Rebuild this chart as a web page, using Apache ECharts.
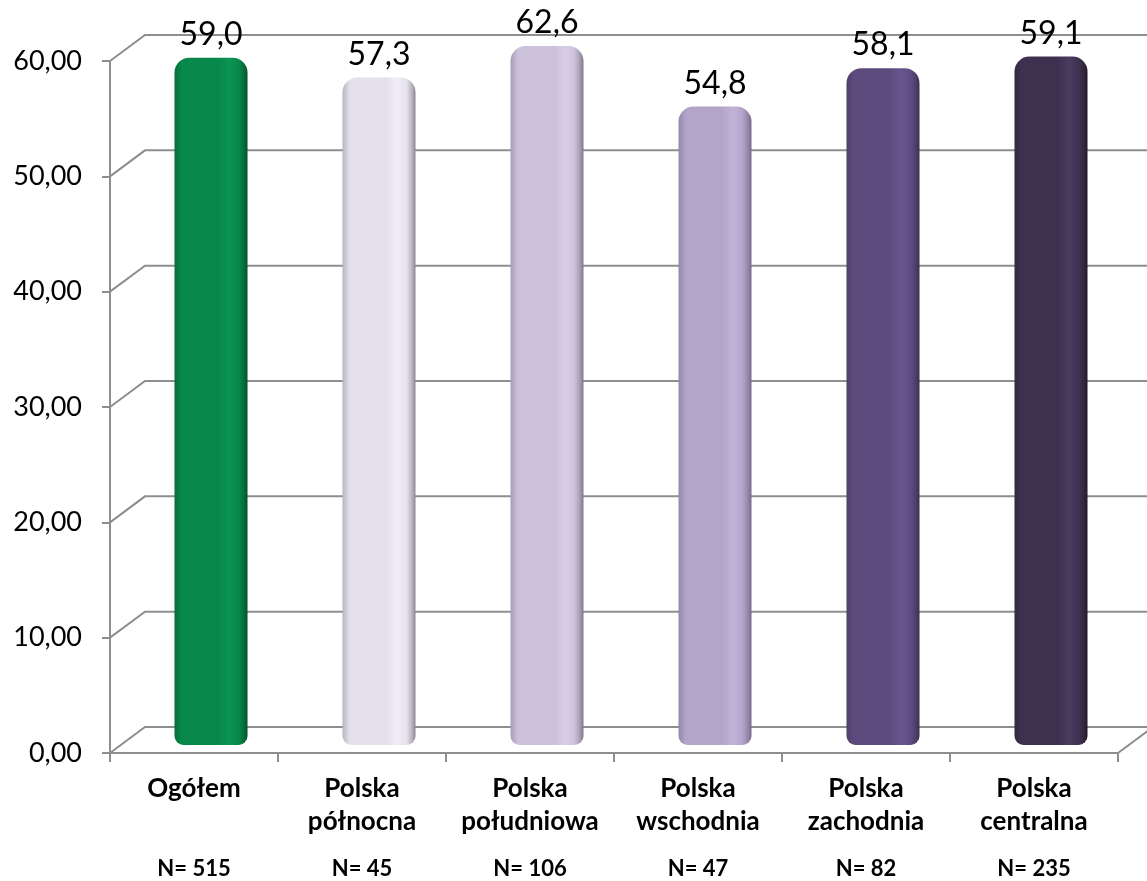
<!DOCTYPE html>
<html>
<head>
<meta charset="utf-8">
<script src="https://cdn.jsdelivr.net/npm/echarts@6/dist/echarts.min.js"></script>
<style>
html,body{margin:0;padding:0;background:#fff;}
#chart{width:1147px;height:881px;}
</style>
</head>
<body>
<div id="chart"></div>
<script>
const categories = ['Ogółem', 'Polska\npółnocna', 'Polska\npołudniowa', 'Polska\nwschodnia', 'Polska\nzachodnia', 'Polska\ncentralna'];
const sampleSizes = ['N= 515', 'N= 45', 'N= 106', 'N= 47', 'N= 82', 'N= 235'];
const values = [59.0, 57.3, 62.6, 54.8, 58.1, 59.1];
const yTicks = [0, 10, 20, 30, 40, 50, 60];

// styles (kept apart from data)
const barPalette = [
  {edge: '#03502a', dark: '#066d3b', main: '#07884a', light: '#0a9553'},
  {edge: '#8a8791', dark: '#b9b5c0', main: '#e4e0ec', light: '#f1eef8'},
  {edge: '#7f778a', dark: '#a79eb5', main: '#cbc1db', light: '#d8cfe7'},
  {edge: '#766b89', dark: '#9587aa', main: '#b3a4c9', light: '#c2b3da'},
  {edge: '#3a2f50', dark: '#4e3e6a', main: '#5e4b7e', light: '#6a5690'},
  {edge: '#1f1829', dark: '#33283f', main: '#3e3150', light: '#4a3b60'}
];
const DEPTH_X = 35, DEPTH_Y = 26;
const GRID_COLOR = '#8e8e8e';
const FONT = 'Lato, "Open Sans", sans-serif';

function grad(p) {
  return {
    type: 'linear', x: 0, y: 0, x2: 1, y2: 0,
    colorStops: [
      {offset: 0, color: p.dark},
      {offset: 0.1, color: p.main},
      {offset: 0.6, color: p.main},
      {offset: 0.75, color: p.light},
      {offset: 0.88, color: p.main},
      {offset: 0.95, color: p.dark},
      {offset: 1, color: p.edge}
    ]
  };
}

const chart = echarts.init(document.getElementById('chart'), null, {renderer: 'canvas'});
const fmt1 = v => v.toFixed(1).replace('.', ',');
const fmt2 = v => Number(v).toFixed(2).replace('.', ',');

chart.setOption({
  backgroundColor: '#ffffff',
  animation: false,
  grid: [
    {left: 110, right: 29, top: 61, bottom: 128},
    {left: 127, right: 12, top: 46, bottom: 136}
  ],
  xAxis: [
    {
      gridIndex: 0, type: 'category', data: categories, boundaryGap: true,
      axisLine: {show: true, lineStyle: {color: GRID_COLOR, width: 2}},
      axisTick: {show: true, interval: 0, length: 9, lineStyle: {color: GRID_COLOR, width: 2}},
      axisLabel: {
        interval: 0, margin: 19, color: '#000', fontFamily: FONT, fontWeight: 'bold',
        fontSize: 26, lineHeight: 33
      }
    },
    {
      gridIndex: 0, type: 'category', data: sampleSizes, position: 'bottom',
      axisLine: {show: false}, axisTick: {show: false},
      axisLabel: {interval: 0, margin: 105, color: '#000', fontFamily: FONT, fontWeight: 'bold', fontSize: 22}
    },
    {gridIndex: 1, type: 'category', data: categories, show: false}
  ],
  yAxis: [
    {
      gridIndex: 0, type: 'value', min: 0, max: 60, interval: 10,
      axisLine: {show: true, lineStyle: {color: GRID_COLOR, width: 2}},
      axisTick: {show: true, length: 8, lineStyle: {color: GRID_COLOR, width: 2}},
      splitLine: {show: false},
      axisLabel: {margin: 28, color: '#000', fontFamily: FONT, fontSize: 27, formatter: fmt2}
    },
    {gridIndex: 1, type: 'value', min: 0, max: 60, interval: 10, show: false, splitLine: {show: false}}
  ],
  series: [
    {
      type: 'custom',
      xAxisIndex: 0, yAxisIndex: 0,
      z: 1,
      silent: true,
      clip: false,
      data: yTicks.map(v => [0, v]),
      renderItem: function (params, api) {
        const cs = params.coordSys;
        const v = api.value(1);
        const y = api.coord([0, v])[1];
        const x0 = cs.x, x1 = cs.x + cs.width;
        const children = [{
          type: 'polyline',
          shape: {points: [[x0, y], [x0 + DEPTH_X, y - DEPTH_Y], [x1 + DEPTH_X, y - DEPTH_Y]]},
          style: {stroke: GRID_COLOR, lineWidth: 2, fill: null}
        }];
        if (v === 0) {
          children.push({
            type: 'line',
            shape: {x1: x1, y1: y, x2: x1 + DEPTH_X, y2: y - DEPTH_Y},
            style: {stroke: GRID_COLOR, lineWidth: 2}
          });
        }
        return {type: 'group', children: children};
      }
    },
    {
      type: 'bar',
      xAxisIndex: 2, yAxisIndex: 1,
      z: 3,
      barWidth: 73,
      clip: true,
      data: values.map((v, i) => ({
        value: v,
        itemStyle: {color: grad(barPalette[i]), borderRadius: [15, 15, 9, 9]}
      })),
      label: {
        show: true, position: 'top', distance: 7,
        color: '#000', fontFamily: FONT, fontSize: 32,
        formatter: p => fmt1(p.value)
      }
    }
  ]
});
</script>
</body>
</html>
